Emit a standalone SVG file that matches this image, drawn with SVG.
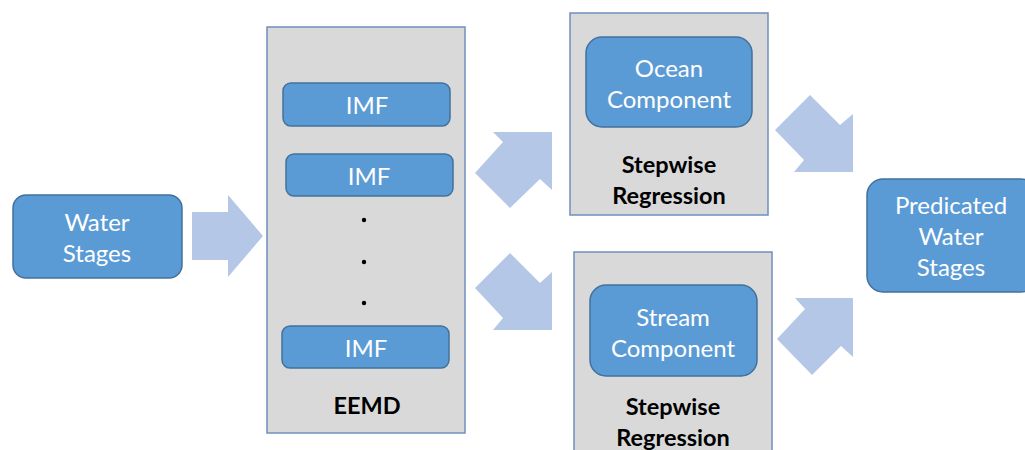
<svg xmlns="http://www.w3.org/2000/svg" width="1025" height="450" viewBox="0 0 1025 450">
<style>
.node{fill:#5b9bd5;stroke:#41719c;stroke-width:1.5}
.cont{fill:#d9d9d9;stroke:#6f8fbb;stroke-width:1.5}
.arrow{fill:#b4c7e7}
.t{font-family:Lato,"Liberation Sans",sans-serif;font-size:24px;fill:#ffffff;text-anchor:middle}
.b{font-family:Lato,"Liberation Sans",sans-serif;font-size:23.5px;font-weight:bold;fill:#000000;text-anchor:middle}
</style>
<rect width="1025" height="450" fill="#ffffff"/>
<g id="connectors">
<polygon class="arrow" points="192,212 228,212 228,195 263,236 228,277 228,260 192,260"/>
<polygon class="arrow" points="493,132 552,132 552,190 540,179 510,208 475,173 503,142"/>
<polygon class="arrow" points="510,253 540,283 552,272 552,330 493,330 503,318 475,288"/>
<polygon class="arrow" points="810,95 840,125 853,114 853,172 794,172 804,160 775,130"/>
<polygon class="arrow" points="795,298 853,298 853,357 841,346 812,375 777,339 805,309"/>
</g>
<g id="water-stages">
<rect class="node" x="13" y="195" width="169" height="83" rx="13"/>
<text class="t" x="97" y="231">Water</text>
<text class="t" x="97" y="262">Stages</text>
</g>
<g id="eemd">
<rect class="cont" x="267" y="27" width="198" height="406"/>
<text class="b" x="367" y="414">EEMD</text>
<circle cx="364" cy="220" r="2.2" fill="#000"/>
<circle cx="364" cy="262" r="2.2" fill="#000"/>
<circle cx="364" cy="303" r="2.2" fill="#000"/>
</g>
<g id="imf1">
<rect class="node" x="283" y="83" width="167" height="43" rx="8"/>
<text class="t" x="367" y="114">IMF</text>
</g>
<g id="imf2">
<rect class="node" x="286" y="154" width="167" height="42" rx="8"/>
<text class="t" x="369" y="185">IMF</text>
</g>
<g id="imf3">
<rect class="node" x="282" y="326" width="167" height="42" rx="8"/>
<text class="t" x="366" y="357">IMF</text>
</g>
<g id="ocean-regression">
<rect class="cont" x="570" y="13" width="198" height="202"/>
<text class="b" x="669" y="173">Stepwise</text>
<text class="b" x="669" y="204">Regression</text>
</g>
<g id="ocean-component">
<rect class="node" x="586" y="37" width="166" height="90" rx="16"/>
<text class="t" x="669" y="77">Ocean</text>
<text class="t" x="669" y="108">Component</text>
</g>
<g id="stream-regression">
<rect class="cont" x="574" y="252" width="198" height="210"/>
<text class="b" x="673" y="415">Stepwise</text>
<text class="b" x="673" y="446">Regression</text>
</g>
<g id="stream-component">
<rect class="node" x="590" y="285" width="167" height="91" rx="16"/>
<text class="t" x="673" y="326">Stream</text>
<text class="t" x="673" y="357">Component</text>
</g>
<g id="predicated">
<rect class="node" x="867" y="179" width="170" height="113" rx="16"/>
<text class="t" x="951" y="214">Predicated</text>
<text class="t" x="951" y="245">Water</text>
<text class="t" x="951" y="276">Stages</text>
</g>
</svg>
